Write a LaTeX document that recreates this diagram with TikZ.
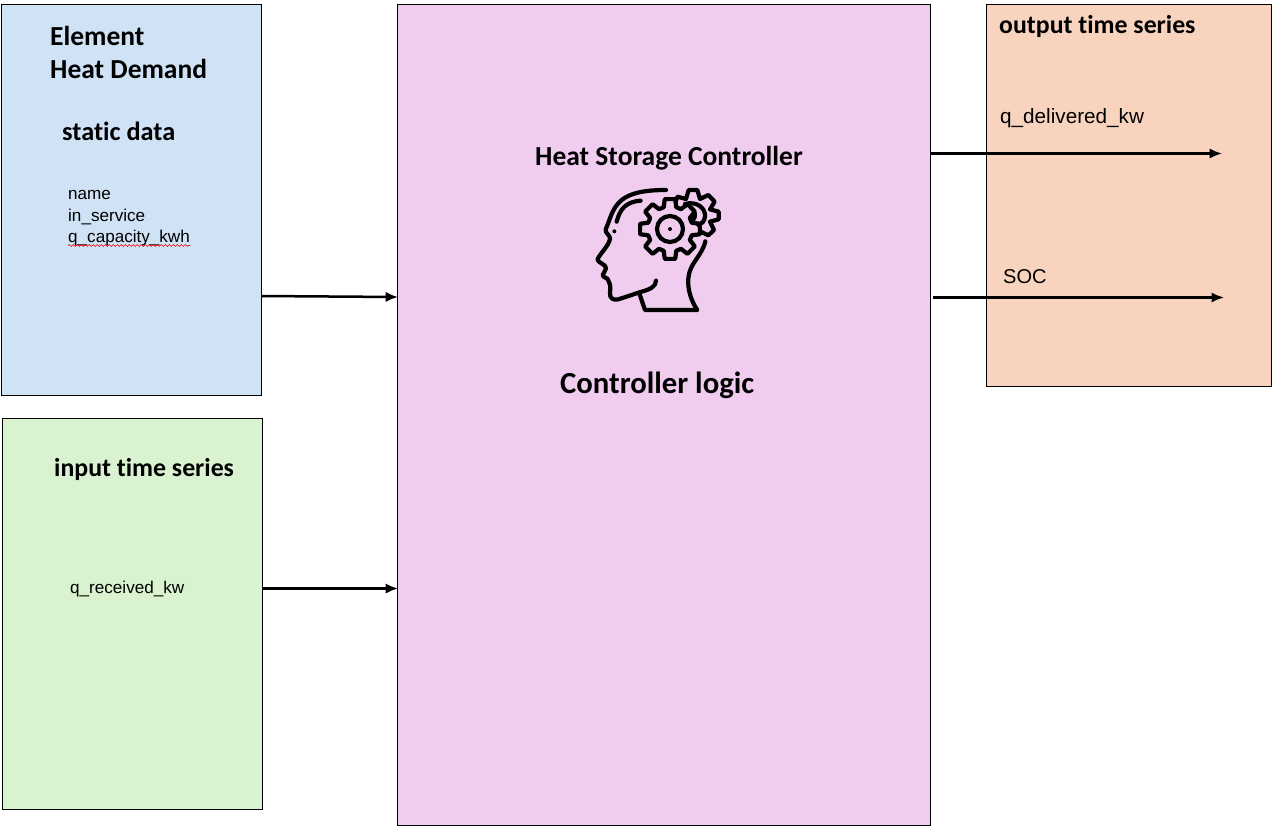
\documentclass[tikz,border=0pt]{standalone}
\usepackage{fontspec}
\setmainfont{Liberation Sans}
\newfontfamily\headfont{Carlito}[BoldFont={Carlito Bold},Ligatures=CommonOff]
\usetikzlibrary{arrows.meta,decorations.pathmorphing}
\definecolor{bluefill}{HTML}{D0E3F6}
\definecolor{greenfill}{HTML}{D9F2D0}
\definecolor{purplefill}{HTML}{F0CDEE}
\definecolor{orangefill}{HTML}{F8D4BF}
\tikzset{
  panel/.style={draw=black,line width=0.9pt,inner sep=0pt},
  flow/.style={line width=2.5pt,-{Latex[length=12.5pt,width=10.5pt]},shorten >=0pt},
  headbig/.style={anchor=base west,inner sep=0pt,font=\headfont\bfseries\fontsize{27.5}{32}\selectfont},
  headmid/.style={anchor=base west,inner sep=0pt,font=\headfont\bfseries\fontsize{25.8}{30}\selectfont},
  plain/.style={anchor=base west,inner sep=0pt,font=\fontsize{17.1}{20}\selectfont},
  plainbig/.style={anchor=base west,inner sep=0pt,font=\fontsize{20.7}{24}\selectfont},
  icon/.style={draw=black,line width=4.2pt,line cap=round,line join=round}
}
\begin{document}
\begin{tikzpicture}[x=1pt,y=-1pt]
\useasboundingbox (0,0) rectangle (1275,831);
\fill[white] (0,0) rectangle (1275,831);
\node[panel,fill=bluefill,minimum width=260pt,minimum height=391pt] (blue) at (131,199.5) {};
\node[panel,fill=greenfill,minimum width=260pt,minimum height=391pt] (green) at (132,613.5) {};
\node[panel,fill=purplefill,minimum width=533pt,minimum height=821pt] (ctrl) at (663.5,414.5) {};
\node[panel,fill=orangefill,minimum width=285pt,minimum height=382pt] (out) at (1128.5,195) {};
% labels
\node[headbig] (t1) at (50,45) {Element};
\node[headbig] (t2) at (50,78) {Heat Demand};
\node[headmid,font=\headfont\bfseries\fontsize{26.3}{30}\selectfont] (t3) at (62,140) {static data};
\node[plain] (n1) at (68,199) {name};
\node[plain] (n2) at (68,221) {in\_service};
\node[plain] (n3) at (68,242) {q\_capacity\_kwh};
\draw[red,line width=0.6pt,decorate,decoration={snake,amplitude=0.9pt,segment length=4pt}]
  ([yshift=-3.5pt]n3.base west) -- ([yshift=-3.5pt]n3.base east);
\node[headmid] (t4) at (54,476) {input time series};
\node[plain] (n4) at (70,593) {q\_received\_kw};
\node[headmid,font=\headfont\bfseries\fontsize{27.5}{30}\selectfont] (t5) at (535,165) {Heat Storage Controller};
\node[headbig,font=\headfont\bfseries\fontsize{30.7}{34}\selectfont] (t6) at (560,393) {Controller logic};
\node[headmid] (t7) at (999,33) {output time series};
\node[plainbig] (n5) at (1000,123) {q\_delivered\_kw};
\node[plainbig,font=\fontsize{20}{24}\selectfont] (n6) at (1003,283) {SOC};
% connectors
\coordinate (a1) at (blue.east |- 0,296);
\coordinate (a2) at ([xshift=1.5pt]ctrl.west |- 0,297);
\coordinate (b1) at (green.east |- 0,588.5);
\coordinate (b2) at ([xshift=1.5pt]ctrl.west |- 0,588.5);
\coordinate (c1) at (ctrl.east |- 0,153.5);
\coordinate (c2) at (1222,153.5);
\coordinate (d1) at (933,297.5);
\coordinate (d2) at (1224,297.5);
\draw[flow] (a1) -- (a2);
\draw[flow] (b1) -- (b2);
\draw[flow] (c1) -- (c2);
\draw[flow] (d1) -- (d2);
% icon (drawn in the scale of a 3x crop)
\begin{scope}[shift={(580,170)},x=0.3333pt,y=-0.3333pt]
  \draw[icon] (258,60) .. controls (190,60) and (150,70) .. (125,90)
     .. controls (95,115) and (90,150) .. (77,178)
     .. controls (75,190) and (90,195) .. (90,205)
     .. controls (88,225) and (65,245) .. (52,268)
     .. controls (55,280) and (78,282) .. (78,295)
     .. controls (78,305) and (68,308) .. (68,315)
     .. controls (70,325) and (85,322) .. (85,332)
     .. controls (92,345) and (92,355) .. (90,368)
     .. controls (88,385) and (100,392) .. (115,388)
     -- (185,365) .. controls (210,358) and (228,350) .. (228,332);
  \draw[icon] (182,92) .. controls (140,95) and (120,115) .. (110,155);
  \fill (103,184) circle[radius=6];
  \draw[icon] (178,370) -- (195,420) -- (352,420)
     .. controls (335,395) and (322,360) .. (325,325)
     .. controls (328,280) and (365,260) .. (376,214);
  % main gear
  \begin{scope}[shift={(270,177)}]
    \draw[icon] (-16:68)
       \foreach \a in {0,45,...,315} { -- (\a-16:68) -- (\a-10:91) -- (\a+10:91) -- (\a+16:68) } -- cycle;
    \draw[icon] (0,0) circle[radius=39];
    \fill (0,0) circle[radius=6];
  \end{scope}
  % rear gear
  \draw[icon] (287,95) -- (292,80) -- (318,87) -- (326,60) -- (352,60) -- (360,87)
     -- (385,75) -- (404,95) -- (390,118) -- (416,125) -- (416,148) -- (390,155)
     -- (402,180) -- (385,196) -- (362,185);
  \draw[icon] (315,102) .. controls (350,92) and (378,115) .. (375,140)
     .. controls (373,155) and (365,162) .. (355,165);
  \draw[icon] (332,112) .. controls (345,120) and (350,140) .. (338,152);
\end{scope}
\end{tikzpicture}
\end{document}
